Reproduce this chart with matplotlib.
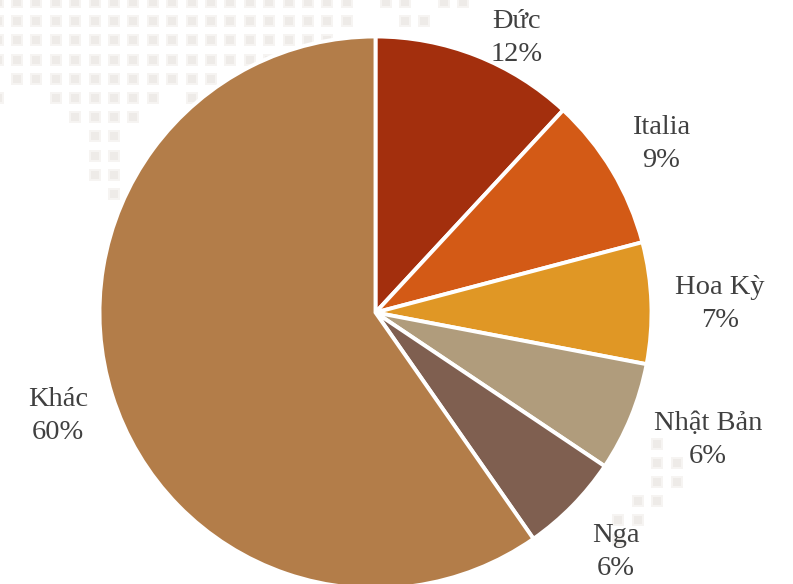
import matplotlib
matplotlib.use("Agg")
import matplotlib.pyplot as plt

# Share of each partner
countries = ["Đức", "Italia", "Hoa Kỳ", "Nhật Bản", "Nga", "Khác"]
shares = [11.9, 9.0, 7.1, 6.4, 5.9, 59.7]
share_labels = ["12%", "9%", "7%", "6%", "6%", "60%"]
colors = ["#a32f0d", "#d35a16", "#e09725", "#b09c7c", "#7f5f50", "#b37d49"]

# Label centres in pixels, same order as countries
label_x = [517, 661, 720, 708, 616, 58]
label_y = [38, 144, 304, 440, 552, 416]

# Faint dotted world map behind the pie: row index -> column indexes
map_rows = {
    0: list(range(-1, 18)) + [19, 20, 22, 23],
    1: list(range(-1, 18)) + [20, 21],
    2: list(range(-1, 17)),
    3: list(range(-1, 15)),
    4: list(range(0, 11)),
    5: [-1] + list(range(2, 8)) + [9],
    6: [3, 4, 5, 6],
    7: [4, 5],
    8: [4, 5],
    9: [4, 5],
    10: [5],
    23: [33],
    24: [33, 34],
    25: [33, 34],
    26: [32, 33],
    27: [31, 32],
    28: [31],
}

plt.rcParams["font.family"] = ["Liberation Serif", "DejaVu Serif"]

fig = plt.figure(figsize=(7.93, 5.84), dpi=100)
ax = fig.add_axes([0, 0, 1, 1])

dot_x, dot_y = [], []
for row, cols in map_rows.items():
    for col in cols:
        dot_x.append(17 + 19.4 * col)
        dot_y.append(2 + 19.2 * row)
# soft edge on the dots: pale square with a slightly darker core
ax.scatter(dot_x, dot_y, s=78, marker="s", color="#f6f4f2", linewidths=0, zorder=0)
ax.scatter(dot_x, dot_y, s=40, marker="s", color="#eeebe8", linewidths=0, zorder=0)

# y axis runs downwards here, so counterclock=True draws clockwise on screen
ax.pie(shares, colors=colors, startangle=-90, counterclock=True,
       center=(375.5, 312.5), radius=276, frame=True,
       wedgeprops={"edgecolor": "white", "linewidth": 2.8})

for name, pct, x, y in zip(countries, share_labels, label_x, label_y):
    ax.text(x, y, f"{name}\n{pct}", ha="center", va="center", fontsize=20.5,
            color="#404040", linespacing=1.4, zorder=5)

ax.set_xlim(0, 793)
ax.set_ylim(584, 0)
ax.set_aspect("equal")
ax.axis("off")

fig.savefig("out.png", dpi=100, facecolor="white")
plt.close(fig)
